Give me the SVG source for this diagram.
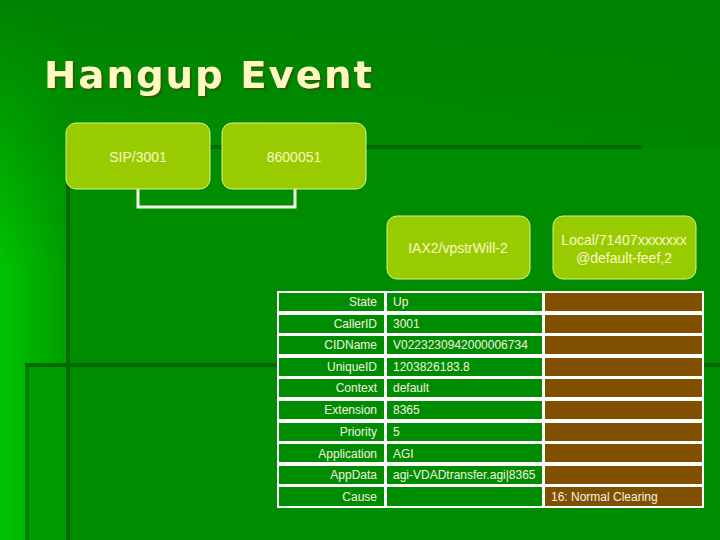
<svg xmlns="http://www.w3.org/2000/svg" width="720" height="540" viewBox="0 0 720 540">
<defs>
<linearGradient id="bg" x1="0" y1="0" x2="1" y2="0">
<stop offset="0" stop-color="#00c400"/><stop offset="0.1" stop-color="#009a00"/><stop offset="1" stop-color="#008a00"/>
</linearGradient>
<linearGradient id="fade" x1="0" y1="0" x2="0" y2="1">
<stop offset="0" stop-color="#fff" stop-opacity="0"/><stop offset="0.5" stop-color="#fff" stop-opacity="1"/>
</linearGradient>
<mask id="m"><rect width="720" height="540" fill="url(#fade)"/></mask>
<filter id="sh" x="-5%" y="-20%" width="110%" height="150%"><feDropShadow dx="2" dy="2" stdDeviation="0.5" flood-color="#3a4a00" flood-opacity="0.7"/></filter>
<style>
.node{fill:#99cc00;stroke:#d8f090;stroke-width:1}
.nt{font-family:"Liberation Sans",Arial,sans-serif;font-size:14px;fill:#fbf8c8;text-anchor:middle}
.cell{fill:#008c00;stroke:#fff;stroke-width:2}
.bcell{fill:#804f00;stroke:#fff;stroke-width:2}
.lab{font-family:"Liberation Sans",Arial,sans-serif;font-size:12px;fill:#f4f4e0;text-anchor:end}
.val{font-family:"Liberation Sans",Arial,sans-serif;font-size:12px;fill:#f4f4e0}
.dl{stroke:#006a00;stroke-width:4}
</style>
</defs>
<rect width="720" height="540" fill="#008200"/>
<rect width="720" height="540" fill="url(#bg)" mask="url(#m)"/>
<rect x="67" y="148" width="653" height="392" fill="#008c00"/>
<rect x="27" y="365" width="40" height="175" fill="#009a00"/>
<line class="dl" x1="67" y1="147" x2="642" y2="147"/>
<line class="dl" x1="68" y1="147" x2="68" y2="540"/>
<line class="dl" x1="25" y1="365" x2="720" y2="365" stroke-width="3"/>
<line class="dl" x1="27" y1="365" x2="27" y2="540" stroke-width="3" opacity="0.6"/>
<text x="44" y="88" font-family="'DejaVu Sans',Verdana,sans-serif" font-weight="bold" font-size="38" letter-spacing="2" fill="#fdf9c0" filter="url(#sh)" textLength="330" lengthAdjust="spacingAndGlyphs">Hangup Event</text>
<g id="connectors">
<polyline points="138,189 138,207 295,207 295,189" fill="none" stroke="#f4f8e8" stroke-width="3"/>
</g>
<g id="sip"><rect class="node" x="66" y="123" width="144" height="66" rx="10"/><text class="nt" x="138" y="162">SIP/3001</text></g>
<g id="n8600051"><rect class="node" x="222" y="123" width="144" height="66" rx="10"/><text class="nt" x="294" y="162">8600051</text></g>
<g id="iax"><rect class="node" x="387" y="216" width="143" height="63" rx="10"/><text class="nt" x="458" y="253" font-size="16">IAX2/vpstrWill-2</text></g>
<g id="local"><rect class="node" x="553" y="216" width="143" height="63" rx="10"/><text class="nt" x="624" y="245">Local/71407xxxxxxx</text><text class="nt" x="624" y="263">@default-feef,2</text></g>
<g id="table">
<rect x="277" y="291" width="427" height="217" fill="#fff"/>
<g id="rows">
<rect class="cell" x="278" y="292" width="107" height="20"/><rect class="cell" x="386" y="292" width="157" height="20"/><rect class="bcell" x="544" y="292" width="159" height="20"/>
<rect class="cell" x="278" y="314" width="107" height="20"/><rect class="cell" x="386" y="314" width="157" height="20"/><rect class="bcell" x="544" y="314" width="159" height="20"/>
<rect class="cell" x="278" y="335" width="107" height="20"/><rect class="cell" x="386" y="335" width="157" height="20"/><rect class="bcell" x="544" y="335" width="159" height="20"/>
<rect class="cell" x="278" y="357" width="107" height="20"/><rect class="cell" x="386" y="357" width="157" height="20"/><rect class="bcell" x="544" y="357" width="159" height="20"/>
<rect class="cell" x="278" y="378" width="107" height="20"/><rect class="cell" x="386" y="378" width="157" height="20"/><rect class="bcell" x="544" y="378" width="159" height="20"/>
<rect class="cell" x="278" y="400" width="107" height="20"/><rect class="cell" x="386" y="400" width="157" height="20"/><rect class="bcell" x="544" y="400" width="159" height="20"/>
<rect class="cell" x="278" y="422" width="107" height="20"/><rect class="cell" x="386" y="422" width="157" height="20"/><rect class="bcell" x="544" y="422" width="159" height="20"/>
<rect class="cell" x="278" y="443" width="107" height="20"/><rect class="cell" x="386" y="443" width="157" height="20"/><rect class="bcell" x="544" y="443" width="159" height="20"/>
<rect class="cell" x="278" y="465" width="107" height="20"/><rect class="cell" x="386" y="465" width="157" height="20"/><rect class="bcell" x="544" y="465" width="159" height="20"/>
<rect class="cell" x="278" y="486" width="107" height="21"/><rect class="cell" x="386" y="486" width="157" height="21"/><rect class="bcell" x="544" y="486" width="159" height="21"/>
</g>
<text class="lab" x="377" y="306">State</text><text class="val" x="393" y="306">Up</text>
<text class="lab" x="377" y="328">CallerID</text><text class="val" x="393" y="328">3001</text>
<text class="lab" x="377" y="349">CIDName</text><text class="val" x="393" y="349">V0223230942000006734</text>
<text class="lab" x="377" y="371">UniqueID</text><text class="val" x="393" y="371">1203826183.8</text>
<text class="lab" x="377" y="392">Context</text><text class="val" x="393" y="392">default</text>
<text class="lab" x="377" y="414">Extension</text><text class="val" x="393" y="414">8365</text>
<text class="lab" x="377" y="436">Priority</text><text class="val" x="393" y="436">5</text>
<text class="lab" x="377" y="458">Application</text><text class="val" x="393" y="458">AGI</text>
<text class="lab" x="377" y="479">AppData</text><text class="val" x="393" y="479">agi-VDADtransfer.agi|8365</text>
<text class="lab" x="377" y="501">Cause</text><text class="val" x="551" y="501">16: Normal Clearing</text>
</g>
</svg>
